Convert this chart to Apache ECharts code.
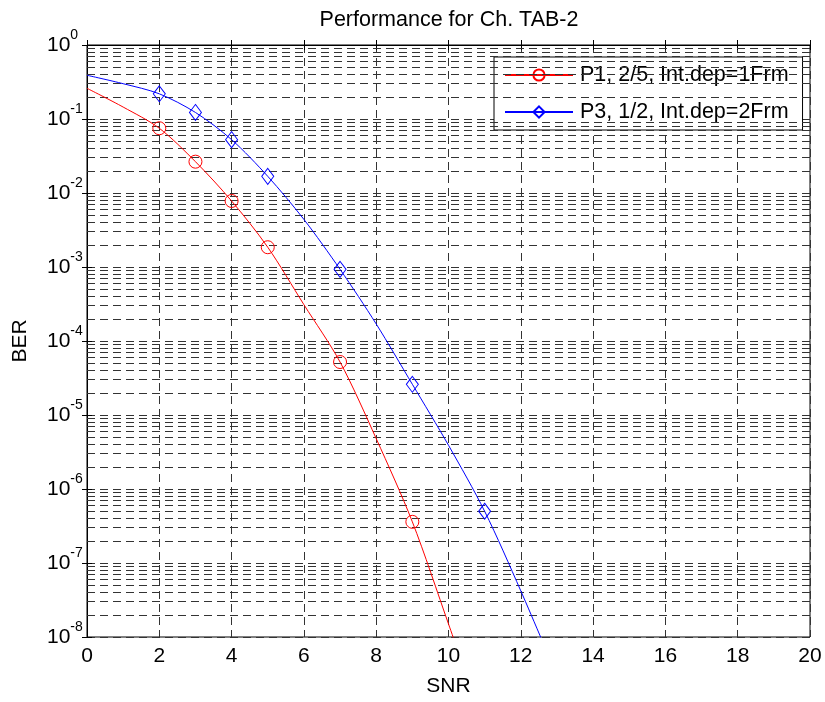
<!DOCTYPE html>
<html>
<head>
<meta charset="utf-8">
<title>Performance for Ch. TAB-2</title>
<script src="https://cdn.jsdelivr.net/npm/echarts@6/dist/echarts.min.js"></script>
<style>
html, body { margin: 0; padding: 0; background: #fff; }
#chart { width: 825px; height: 702px; }
</style>
</head>
<body>
<div id="chart"></div>
<script>
// values
const xTicks = [0, 2, 4, 6, 8, 10, 12, 14, 16, 18, 20];
const redX = [0, 1, 2, 3, 4, 5, 6, 7, 8, 9, 10, 10.5];
const redY = [0.26, 0.145, 0.075, 0.0265, 0.0078, 0.00185, 3.1e-4, 5.2e-5, 4.8e-6, 3.6e-7, 1.5e-8, 3e-9];
const redMarkX = [2, 3, 4, 5, 7, 9];
const blueX = [0, 1, 2, 3, 4, 5, 6, 7, 8, 9, 10, 11, 12, 13];
const blueY = [0.39, 0.30, 0.219, 0.1226, 0.0526, 0.0168, 0.0044, 9.3e-4, 1.7e-4, 2.6e-5, 3.9e-6, 5e-7, 4.2e-8, 3e-9];
const blueMarkX = [2, 3, 4, 5, 7, 9, 11];

const gridColor = '#333';
const dash = [8, 5];
const font = 'Liberation Sans, Arial, sans-serif';

// minor log grid lines (2..9 x each decade), as exponents on a helper axis
const minorLines = [];
for (let k = -8; k < 0; k++) {
  for (let m = 2; m <= 9; m++) {
    minorLines.push({ yAxis: k + Math.log10(m) });
  }
}

function buildData(xs, ys, marks) {
  return xs.map(function(x, i) {
    const item = { value: [x, ys[i]] };
    if (marks.indexOf(x) < 0) item.symbol = 'none';
    return item;
  });
}

const chart = echarts.init(document.getElementById('chart'));
const option = {
  animation: false,
  backgroundColor: '#fff',
  textStyle: { fontFamily: font },
  title: {
    text: 'Performance for Ch. TAB-2',
    left: 444,
    top: 4,
    textAlign: 'center',
    textStyle: { fontSize: 21.5, fontWeight: 'normal', color: '#000', fontFamily: font }
  },
  legend: {
    left: 494,
    top: 57,
    orient: 'vertical',
    backgroundColor: '#fff',
    borderColor: '#000',
    borderWidth: 1,
    borderRadius: 0,
    padding: [7, 14, 7, 10],
    itemGap: 15,
    itemWidth: 68,
    itemHeight: 14,
    textStyle: { fontSize: 21.5, color: '#000', fontFamily: font, padding: [0, 0, 0, 2] },
    data: ['P1, 2/5, Int.dep=1Frm', 'P3, 1/2, Int.dep=2Frm']
  },
  grid: { left: 87, right: 15, top: 45, bottom: 63, show: true, borderColor: '#000', borderWidth: 1 },
  xAxis: [{
    type: 'value',
    min: 0,
    max: 20,
    interval: 2,
    name: 'SNR',
    nameLocation: 'middle',
    nameGap: 39,
    nameTextStyle: { fontSize: 21, color: '#000' },
    axisLine: { show: true, lineStyle: { color: '#000' } },
    axisTick: { show: true, inside: true, length: 5, lineStyle: { color: '#000' } },
    axisLabel: { fontSize: 21, color: '#000', margin: 9 },
    splitLine: { show: true, lineStyle: { color: gridColor, type: dash, width: 1 } }
  }, {
    type: 'value',
    position: 'top',
    min: 0,
    max: 20,
    interval: 2,
    axisLine: { show: true, lineStyle: { color: '#000' } },
    axisTick: { show: true, inside: true, length: 5, lineStyle: { color: '#000' } },
    axisLabel: { show: false },
    splitLine: { show: false }
  }],
  yAxis: [{
    type: 'log',
    logBase: 10,
    min: 1e-8,
    max: 1,
    interval: 1,
    name: 'BER',
    nameLocation: 'middle',
    nameGap: 56,
    nameRotate: 90,
    nameTextStyle: { fontSize: 21, color: '#000' },
    axisLine: { show: true, lineStyle: { color: '#000' } },
    axisTick: { show: true, inside: true, length: 5, lineStyle: { color: '#000' } },
    axisLabel: {
      margin: 40,
      align: 'left',
      formatter: function(v) {
        return '{b|10}{s|' + Math.round(Math.log10(v)) + '}';
      },
      rich: {
        b: { fontSize: 21, color: '#000', lineHeight: 34, fontFamily: font },
        s: { fontSize: 14, color: '#000', lineHeight: 14, verticalAlign: 'top', fontFamily: font }
      }
    },
    splitLine: { show: true, lineStyle: { color: gridColor, type: dash, width: 1 } }
  }, {
    type: 'log',
    logBase: 10,
    min: 1e-8,
    max: 1,
    interval: 1,
    position: 'right',
    axisLine: { show: true, lineStyle: { color: '#000' } },
    axisTick: { show: true, inside: true, length: 5, lineStyle: { color: '#000' } },
    axisLabel: { show: false },
    splitLine: { show: false }
  }, {
    // helper axis in exponent units for the minor grid lines
    type: 'value',
    min: -8,
    max: 0,
    show: false
  }],
  series: [{
    name: 'minor grid',
    type: 'line',
    yAxisIndex: 2,
    silent: true,
    data: [],
    markLine: {
      silent: true,
      symbol: 'none',
      label: { show: false },
      animation: false,
      lineStyle: { color: gridColor, type: dash, width: 1 },
      emphasis: { disabled: true },
      data: minorLines
    }
  }, {
    name: 'P1, 2/5, Int.dep=1Frm',
    type: 'line',
    smooth: 0.3,
    symbol: 'circle',
    symbolSize: 13,
    showAllSymbol: true,
    color: '#ff0000',
    lineStyle: { color: '#ff0000', width: 1 },
    itemStyle: { color: 'rgba(255,255,255,0)', borderColor: '#ff0000', borderWidth: 1 },
    emphasis: { disabled: true },
    z: 5,
    data: buildData(redX, redY, redMarkX)
  }, {
    name: 'P3, 1/2, Int.dep=2Frm',
    type: 'line',
    smooth: 0.3,
    symbol: 'diamond',
    symbolSize: [12, 16],
    showAllSymbol: true,
    color: '#0000ff',
    lineStyle: { color: '#0000ff', width: 1 },
    itemStyle: { color: 'rgba(255,255,255,0)', borderColor: '#0000ff', borderWidth: 1 },
    emphasis: { disabled: true },
    z: 5,
    data: buildData(blueX, blueY, blueMarkX)
  }]
};
chart.setOption(option);
window.addEventListener('resize', function() {
  chart.resize();
});
</script>
</body>
</html>
